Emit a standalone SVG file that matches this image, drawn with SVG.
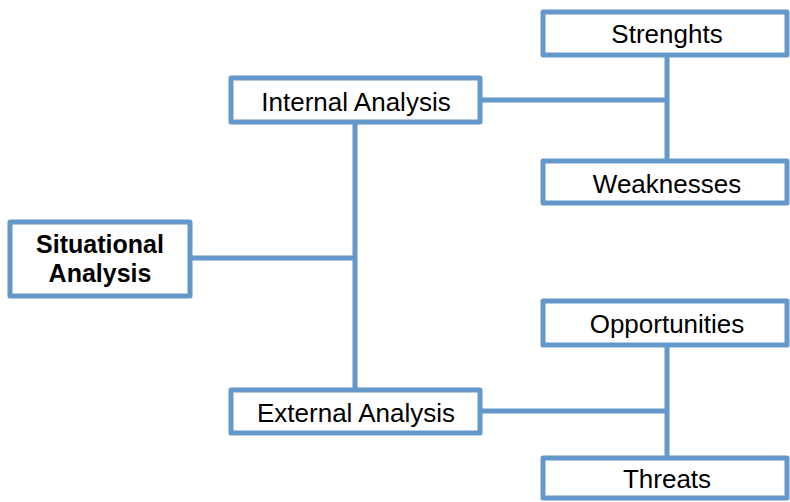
<svg xmlns="http://www.w3.org/2000/svg" width="790" height="502" viewBox="0 0 790 502">
<style>
.box{fill:#fff;stroke:#6598ca;stroke-width:5;stroke-linejoin:round}
.ln{fill:none;stroke:#6598ca;stroke-width:5}
text{font-family:"Liberation Sans",Arial,sans-serif;font-size:26px;fill:#000;text-anchor:middle}
.b{font-weight:bold;font-size:25px}
</style>
<rect width="790" height="502" fill="#fff"/>
<g id="connectors">
<path class="ln" d="M190,258 H355 M355,124 V389 M480,100 H667 M667,55 V161 M480,411 H667 M667,345 V457"/>
</g>
<g id="situational"><rect class="box" x="10" y="222" width="180" height="74"/><text class="b" x="100" y="253">Situational</text><text class="b" x="100" y="282">Analysis</text></g>
<g id="internal"><rect class="box" x="231" y="78" width="249" height="44"/><text x="356" y="111">Internal Analysis</text></g>
<g id="external"><rect class="box" x="231" y="390" width="249" height="43"/><text x="356" y="422">External Analysis</text></g>
<g id="strengths"><rect class="box" x="543" y="12" width="244" height="43"/><text x="667" y="43">Strenghts</text></g>
<g id="weaknesses"><rect class="box" x="543" y="161" width="244" height="42"/><text x="667" y="193">Weaknesses</text></g>
<g id="opportunities"><rect class="box" x="543" y="301" width="244" height="44"/><text x="667" y="333">Opportunities</text></g>
<g id="threats"><rect class="box" x="543" y="458" width="244" height="40"/><text x="667" y="488">Threats</text></g>
</svg>
